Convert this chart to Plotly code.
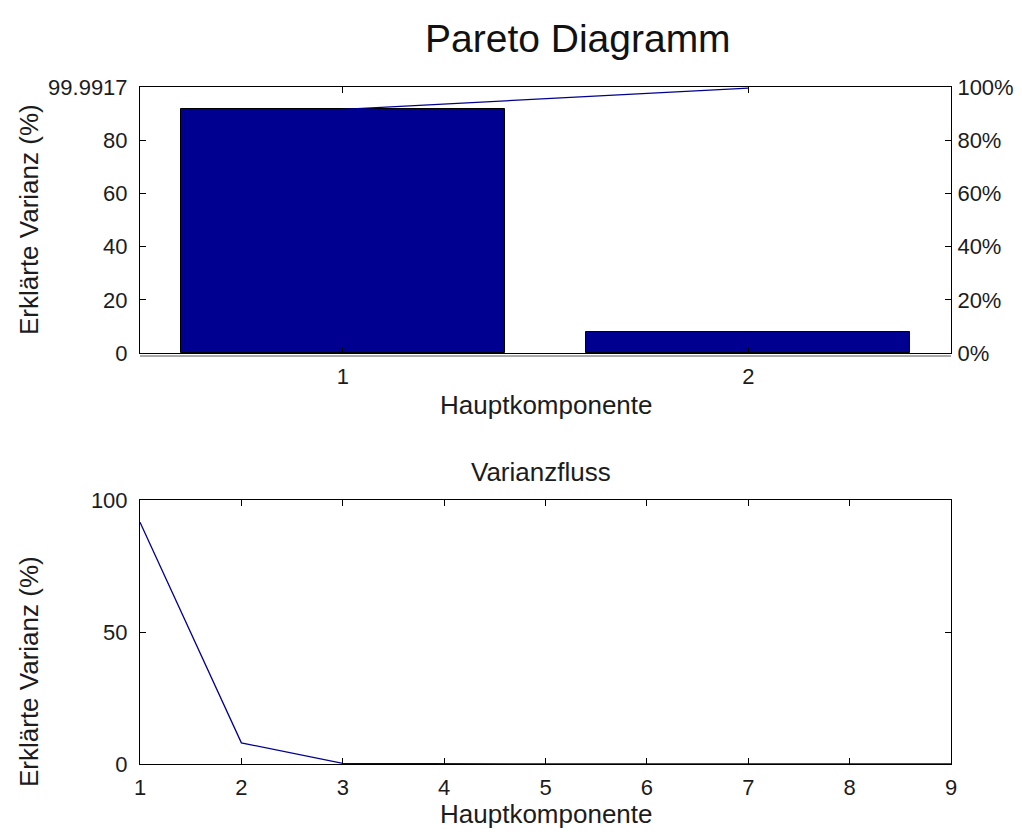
import plotly.graph_objects as go

# Explained variance per principal component (percent)
komponenten = [1, 2, 3, 4, 5, 6, 7, 8, 9]
erklaert = [91.6, 8.0, 0.25, 0.06, 0.04, 0.02, 0.01, 0.007, 0.0047]

# Pareto part: only the components shown as bars
pareto_x = [1, 2]
pareto_bars = erklaert[:2]
gesamt = 99.9917  # total of all components, top of the left axis
kumuliert = [sum(erklaert[:i + 1]) for i in range(len(pareto_x))]

left_ticks = [0, 20, 40, 60, 80, gesamt]
left_ticktext = ["0", "20", "40", "60", "80", "99.9917"]
right_ticks = [0, 20, 40, 60, 80, 100]
right_ticktext = ["0%", "20%", "40%", "60%", "80%", "100%"]

NAVY = "#000090"
FONT = "Liberation Sans, Arial, sans-serif"
TXT = "#1c1c1c"
W, H = 1022, 834


def px_x(p):
    return p / W


def px_y(p):
    return 1 - p / H


fig = go.Figure()

fig.add_trace(go.Bar(
    x=pareto_x, y=pareto_bars, width=0.8,
    marker=dict(color=NAVY, line=dict(color="black", width=1)),
    xaxis="x", yaxis="y", showlegend=False,
))
fig.add_trace(go.Scatter(
    x=pareto_x, y=kumuliert, mode="lines",
    line=dict(color=NAVY, width=1.3),
    xaxis="x", yaxis="y", showlegend=False,
))
fig.add_trace(go.Scatter(
    x=komponenten, y=erklaert, mode="lines",
    line=dict(color=NAVY, width=1.3),
    xaxis="x2", yaxis="y3", showlegend=False,
))
# keep the right percentage axis alive without drawing anything on it
fig.add_trace(go.Scatter(x=[None], y=[None], xaxis="x", yaxis="y2",
                         showlegend=False, hoverinfo="skip"))

axis_common = dict(
    showgrid=False, zeroline=False, showline=True, linecolor="black",
    linewidth=1, ticks="inside", ticklen=6, tickcolor="black",
    tickfont=dict(family=FONT, size=22, color=TXT), automargin=False,
)

xdom = [px_x(140), px_x(951)]
fig.update_layout(
    width=W, height=H,
    margin=dict(l=0, r=0, t=0, b=0, pad=0, autoexpand=False),
    paper_bgcolor="white", plot_bgcolor="white",
    bargap=0,
    xaxis=dict(domain=xdom, anchor="y", range=[0.5, 2.5],
               tickvals=pareto_x, mirror="ticks", ticklabelstandoff=4,
               **axis_common),
    yaxis=dict(domain=[px_y(353), px_y(87)], anchor="x", range=[0, gesamt],
               tickvals=left_ticks, ticktext=left_ticktext, mirror=True,
               ticklabelstandoff=7, **axis_common),
    yaxis2=dict(overlaying="y", side="right", anchor="x", range=[0, 100],
                tickvals=right_ticks, ticktext=right_ticktext,
                ticklabelstandoff=1, **axis_common),
    xaxis2=dict(domain=xdom, anchor="y3", range=[1, 9],
                tickvals=komponenten, mirror="ticks", ticklabelstandoff=4,
                **axis_common),
    yaxis3=dict(domain=[px_y(764), px_y(500)], anchor="x2", range=[0, 100],
                tickvals=[0, 50, 100], mirror="ticks", ticklabelstandoff=7,
                **axis_common),
)

# second frame edge just below the pareto axes (overlaid axes pair)
fig.add_shape(type="line", xref="paper", yref="paper",
              x0=px_x(140), x1=px_x(951), y0=px_y(356), y1=px_y(356),
              line=dict(color="#555555", width=1))

text_font = dict(family=FONT, size=26, color=TXT)
ann = [
    dict(text="Pareto Diagramm", x=px_x(578), y=px_y(38),
         font=dict(family=FONT, size=39, color="#111111")),
    dict(text="Hauptkomponente", x=px_x(546), y=px_y(405), font=text_font),
    dict(text="Erklärte Varianz (%)", x=px_x(29), y=px_y(220),
         textangle=-90, font=text_font),
    dict(text="Varianzfluss", x=px_x(541), y=px_y(472), font=text_font),
    dict(text="Hauptkomponente", x=px_x(546), y=px_y(814), font=text_font),
    dict(text="Erklärte Varianz (%)", x=px_x(29), y=px_y(672),
         textangle=-90, font=text_font),
]
for a in ann:
    fig.add_annotation(xref="paper", yref="paper", showarrow=False,
                       xanchor="center", yanchor="middle", **a)

fig.write_html("out.html")
